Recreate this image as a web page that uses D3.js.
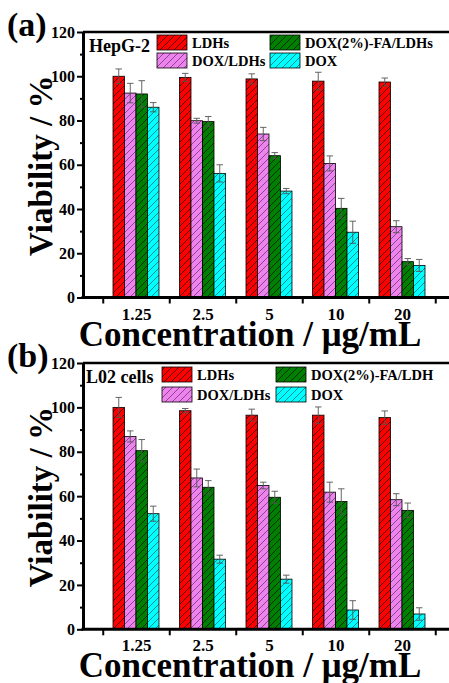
<!DOCTYPE html>
<html>
<head>
<meta charset="utf-8">
<script src="https://cdn.jsdelivr.net/npm/d3@7"></script>
<style>
  body { margin: 0; background: #fff; }
  svg text { font-family: "Liberation Serif", "Times New Roman", serif; font-weight: bold; }
</style>
</head>
<body>
<svg id="chart" width="449" height="683"></svg>
<script>
// concentrations (x categories)
var concs = ["1.25", "2.5", "5", "10", "20"];
var seriesA = ["LDHs", "DOX/LDHs", "DOX(2%)-FA/LDHs", "DOX"];
var seriesB = ["LDHs", "DOX/LDHs", "DOX(2%)-FA/LDH", "DOX"];
var colors = ["#ff0000", "#ee82ee", "#008000", "#00ffff"];
var yTicks = [0, 20, 40, 60, 80, 100, 120];

// panel (a) HepG-2, values per series across concs
var hepMeans = [
  [100, 99.5, 98.8, 97.8, 97.4],
  [92.4, 79.9, 73.9, 60.6, 32],
  [92, 79.5, 64.1, 40.3, 16.2],
  [86, 56.1, 48.1, 29.5, 14.5]
];
var hepErr = [
  [3.3, 1.8, 2.3, 4, 1.8],
  [4.4, 1.1, 3, 3.4, 2.7],
  [6, 2.3, 1.4, 4.5, 1.4],
  [2.1, 3.9, 1.2, 5, 2.7]
];
// panel (b) L02 cells
var l02Means = [
  [100, 98.5, 96.5, 96.5, 95.4],
  [86.9, 68.2, 64.8, 61.8, 58.4],
  [80.5, 64, 59.5, 57.6, 53.6],
  [52.1, 31.6, 22.6, 8.7, 6.9]
];
var l02Err = [
  [4.5, 1, 2.7, 3.7, 3],
  [2.5, 4, 1.5, 4.5, 2.7],
  [5, 3, 2.7, 5.7, 3.3],
  [3.4, 1.8, 1.8, 4.2, 2.8]
];

var svg = d3.select("#chart");
var defs = svg.append("defs");

// hatch patterns, one per colour
colors.forEach(function(c, i) {
  var p = defs.append("pattern")
    .attr("id", "hatch" + i)
    .attr("patternUnits", "userSpaceOnUse")
    .attr("width", 7).attr("height", 7);
  p.append("rect").attr("width", 7).attr("height", 7).attr("fill", c);
  p.append("path")
    .attr("d", "M0,7 L7,0 M-1,1 L1,-1 M6,8 L8,6")
    .attr("stroke", "#000")
    .attr("stroke-opacity", (i == 1 || i == 3) ? 0.55 : 0.85)
    .attr("stroke-width", 0.8);
});

var xLeft = 83, xRight = 452;
var xPos = d3.scalePoint().domain(concs).range([136, 402]);
var xLin = d3.scaleLinear().domain([0, 4]).range([136, 402]);
var xInner = d3.scaleBand().domain([0, 1, 2, 3]).range([-23, 23]).padding(0);

function drawPanel(cfg) {
  var y = d3.scaleLinear().domain([0, 120]).range([cfg.bottom, cfg.top]);
  var g = svg.append("g");

  // bars
  cfg.means.forEach(function(vals, si) {
    var sg = g.append("g");
    sg.selectAll("rect")
      .data(vals)
      .enter().append("rect")
      .attr("x", function(d, i) { return xPos(concs[i]) + xInner(si); })
      .attr("y", function(d) { return y(d); })
      .attr("width", xInner.bandwidth())
      .attr("height", function(d) { return y(0) - y(d); })
      .attr("fill", "url(#hatch" + si + ")")
      .attr("stroke", "#000")
      .attr("stroke-width", 0.8);

    // error bars
    var eg = sg.selectAll("g.err")
      .data(vals)
      .enter().append("g")
      .attr("stroke", "#555")
      .attr("stroke-width", 0.9);
    eg.append("line")
      .attr("x1", function(d, i) { return xPos(concs[i]) + xInner(si) + xInner.bandwidth() / 2; })
      .attr("x2", function(d, i) { return xPos(concs[i]) + xInner(si) + xInner.bandwidth() / 2; })
      .attr("y1", function(d, i) { return y(d - cfg.err[si][i]); })
      .attr("y2", function(d, i) { return y(d + cfg.err[si][i]); });
    eg.append("line")
      .attr("x1", function(d, i) { return xPos(concs[i]) + xInner(si) + 2.5; })
      .attr("x2", function(d, i) { return xPos(concs[i]) + xInner(si) + xInner.bandwidth() - 2.5; })
      .attr("y1", function(d, i) { return y(d + cfg.err[si][i]); })
      .attr("y2", function(d, i) { return y(d + cfg.err[si][i]); });
    eg.append("line")
      .attr("x1", function(d, i) { return xPos(concs[i]) + xInner(si) + 2.5; })
      .attr("x2", function(d, i) { return xPos(concs[i]) + xInner(si) + xInner.bandwidth() - 2.5; })
      .attr("y1", function(d, i) { return y(d - cfg.err[si][i]); })
      .attr("y2", function(d, i) { return y(d - cfg.err[si][i]); });
  });

  // top border
  g.append("line")
    .attr("x1", xLeft).attr("x2", xRight)
    .attr("y1", cfg.top).attr("y2", cfg.top)
    .attr("stroke", "#000").attr("stroke-width", 2.5);

  // y axis, major + minor ticks
  var yAx = g.append("g")
    .attr("transform", "translate(" + xLeft + ",0)")
    .call(d3.axisLeft(y).tickValues(yTicks).tickSize(6).tickSizeOuter(0).tickPadding(2));
  g.append("g")
    .attr("transform", "translate(" + xLeft + ",0)")
    .call(d3.axisLeft(y).tickValues([10, 30, 50, 70, 90, 110]).tickSize(3).tickFormat(""))
    .select(".domain").remove();
  yAx.select(".domain").attr("stroke-width", 3);
  g.selectAll(".tick line").attr("stroke-width", 2);
  yAx.selectAll("text").attr("font-size", 16).attr("fill", "#000")
    .attr("font-family", "Liberation Serif, serif").attr("font-weight", "bold");

  // x axis: ticks between categories, labels at categories
  var xAx = g.append("g")
    .attr("transform", "translate(0," + cfg.bottom + ")")
    .call(d3.axisBottom(xLin).tickValues([-0.5, 0.5, 1.5, 2.5, 3.5, 4.5]).tickSize(6).tickFormat(""));
  xAx.select(".domain").remove();
  xAx.selectAll(".tick line").attr("stroke-width", 2);
  g.append("line")
    .attr("x1", xLeft - 1.5).attr("x2", xRight)
    .attr("y1", cfg.bottom).attr("y2", cfg.bottom)
    .attr("stroke", "#000").attr("stroke-width", 3);
  var xLab = g.append("g")
    .attr("transform", "translate(0," + cfg.bottom + ")")
    .call(d3.axisBottom(xPos).tickSize(0).tickPadding(10));
  xLab.select(".domain").remove();
  xLab.selectAll("text").attr("font-size", 17).attr("fill", "#000")
    .attr("font-family", "Liberation Serif, serif").attr("font-weight", "bold");

  // titles
  g.append("text")
    .attr("transform", "translate(52," + ((cfg.top + cfg.bottom) / 2 + 1) + ") rotate(-90)")
    .attr("text-anchor", "middle")
    .attr("font-size", 33)
    .text("Viability / %");
  g.append("text")
    .attr("x", 250).attr("y", cfg.bottom + 48)
    .attr("text-anchor", "middle")
    .attr("font-size", 35)
    .text("Concentration / \u03bcg/mL");
  g.append("text")
    .attr("x", 7).attr("y", cfg.top + 4)
    .attr("font-size", 34)
    .text(cfg.tag);
  g.append("text")
    .attr("x", cfg.cellX).attr("y", cfg.top + 20)
    .attr("font-size", 18)
    .text(cfg.cell);

  // legend
  var lg = g.append("g");
  cfg.series.forEach(function(s, si) {
    var col = Math.floor(si / 2) === 0 ? 0 : 1;
    var row = si % 2;
    var lx = cfg.legX[col === 0 ? 0 : 1];
    var ly = cfg.top + cfg.legY[row];
    lg.append("rect")
      .attr("x", lx).attr("y", ly)
      .attr("width", 30).attr("height", 15)
      .attr("fill", "url(#hatch" + (col === 0 ? row : 2 + row) + ")")
      .attr("stroke", "#000").attr("stroke-width", 0.8);
    lg.append("text")
      .attr("x", lx + 35).attr("y", ly + 12.5)
      .attr("font-size", 14.5)
      .text(cfg.series[col === 0 ? row : 2 + row]);
  });
}

drawPanel({
  top: 32, bottom: 297.5, tag: "(a)", cell: "HepG-2", cellX: 89,
  means: hepMeans, err: hepErr, series: seriesA,
  legX: [157, 270], legY: [3, 21]
});
drawPanel({
  top: 363, bottom: 629.3, tag: "(b)", cell: "L02 cells", cellX: 86,
  means: l02Means, err: l02Err, series: seriesB,
  legX: [162, 276], legY: [4, 24]
});
</script>
</body>
</html>
